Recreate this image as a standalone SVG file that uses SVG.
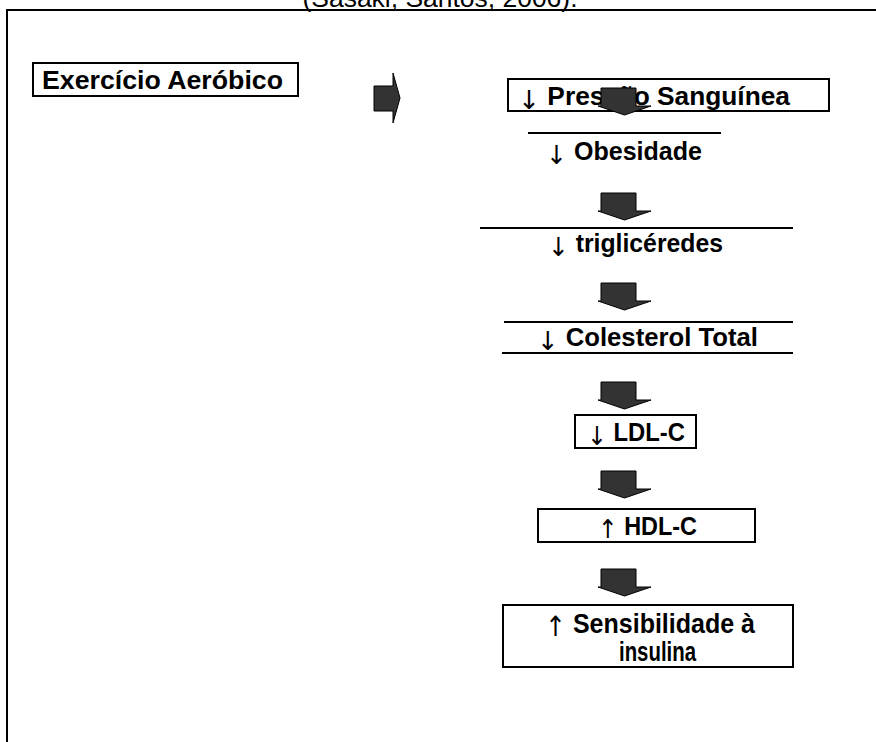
<svg xmlns="http://www.w3.org/2000/svg" width="876" height="742" viewBox="0 0 876 742">
<style>
.t{font-family:"Liberation Sans",Arial,sans-serif;font-weight:bold;font-size:26px;fill:#000}
.s{font-size:28px}
.ar{font-family:"DejaVu Sans",sans-serif;font-weight:normal;fill:#000}
.box{fill:#fff;stroke:#000;stroke-width:2}
.ln{stroke:#000;stroke-width:2}
.blk{fill:#333;stroke:#000;stroke-width:1}
</style>
<defs>
<path id="dn" d="M2,0 H37 V18 H52 L25.5,27 L-1,18 H2 Z"/>
</defs>
<rect width="876" height="742" fill="#fff"/>
<path d="M7,742 V10 H876" fill="none" stroke="#000" stroke-width="2"/>
<text x="440" y="7" text-anchor="middle" font-family="Liberation Sans,Arial,sans-serif" font-size="25" textLength="275" lengthAdjust="spacingAndGlyphs">(Sasaki, Santos, 2006).</text>

<g id="exercicio">
<rect class="box" x="33" y="63" width="265" height="33"/>
<text class="t" x="42" y="89" textLength="241" lengthAdjust="spacingAndGlyphs">Exercício Aeróbico</text>
</g>

<g id="pressao">
<rect class="box" x="508" y="79" width="321" height="32"/>
<text class="t" x="518" y="105" textLength="272" lengthAdjust="spacingAndGlyphs"><tspan class="ar" dy="4">↓</tspan><tspan dy="-4"> Pressão Sanguínea</tspan></text>
</g>

<g id="obesidade">
<line class="ln" x1="528" y1="133" x2="721" y2="133"/>
<text class="t" x="546" y="160" textLength="156" lengthAdjust="spacingAndGlyphs"><tspan class="ar" dy="4">↓</tspan><tspan dy="-4"> Obesidade</tspan></text>
</g>

<g id="triglicerides">
<line class="ln" x1="480" y1="228" x2="793" y2="228"/>
<text class="t" x="548" y="252" textLength="175" lengthAdjust="spacingAndGlyphs"><tspan class="ar" dy="4">↓</tspan><tspan dy="-4"> triglicéredes</tspan></text>
</g>

<g id="colesterol">
<line class="ln" x1="504" y1="322" x2="793" y2="322"/>
<line class="ln" x1="502" y1="353" x2="793" y2="353"/>
<text class="t" x="537" y="346" textLength="221" lengthAdjust="spacingAndGlyphs"><tspan class="ar" dy="4">↓</tspan><tspan dy="-4"> Colesterol Total</tspan></text>
</g>

<g id="ldl">
<rect class="box" x="575" y="415" width="121" height="33"/>
<text class="t" x="587" y="441" textLength="98" lengthAdjust="spacingAndGlyphs"><tspan class="ar" dy="4">↓</tspan><tspan dy="-4"> LDL-C</tspan></text>
</g>

<g id="hdl">
<rect class="box" x="538" y="509" width="217" height="33"/>
<text class="t" x="598" y="535" textLength="99" lengthAdjust="spacingAndGlyphs"><tspan class="ar" dy="3">↑</tspan><tspan dy="-3"> HDL-C</tspan></text>
</g>

<g id="sensibilidade">
<rect class="box" x="503" y="605" width="290" height="62"/>
<text class="t s" x="545" y="633" textLength="210" lengthAdjust="spacingAndGlyphs"><tspan class="ar" dy="3">↑</tspan><tspan dy="-3"> Sensibilidade à</tspan></text>
<text class="t s" x="619" y="661" textLength="77" lengthAdjust="spacingAndGlyphs">insulina</text>
</g>

<g id="connectors">
<path class="blk" d="M374,86 H393 V73 L400,98 L393,123 V111 H374 Z"/>
<use href="#dn" class="blk" x="599" y="88"/>
<use href="#dn" class="blk" x="599" y="193"/>
<use href="#dn" class="blk" x="599" y="283"/>
<use href="#dn" class="blk" x="599" y="382"/>
<use href="#dn" class="blk" x="599" y="471"/>
<use href="#dn" class="blk" x="599" y="569"/>
</g>
</svg>
